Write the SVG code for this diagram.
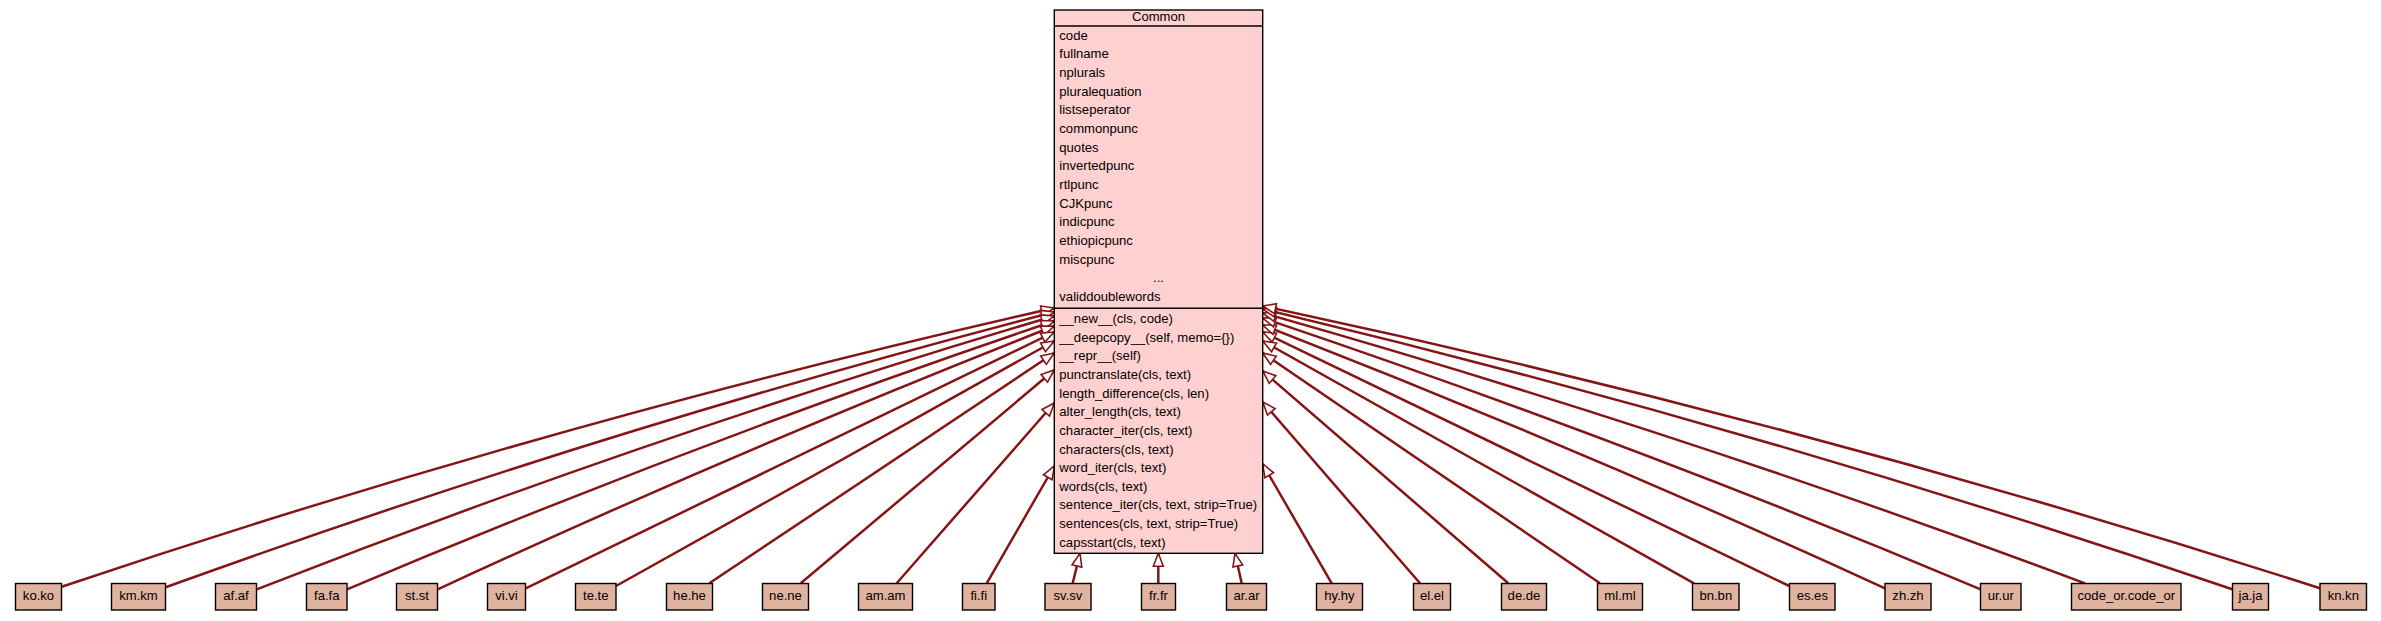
<svg xmlns="http://www.w3.org/2000/svg" width="2381" height="621" viewBox="0 0 2381 621">
<defs>
<style>
text{font-family:"Liberation Sans",Arial,Helvetica,sans-serif;font-size:13.1px;fill:#000}
.c{text-anchor:middle}
.box{fill:#ffd0d0;stroke:#000;stroke-width:1.4}
.sep{stroke:#000;stroke-width:1.4}
.n{fill:#e0b2a0;stroke:#000;stroke-width:1.4}
.e{fill:none;stroke:#861414;stroke-width:2.5;marker-end:url(#tri)}
</style>
<marker id="tri" markerUnits="userSpaceOnUse" markerWidth="16" markerHeight="14" viewBox="0 0 16 14" refX="14.5" refY="7" orient="auto">
<path d="M1.5,2 L14.5,7 L1.5,12 Z" fill="#fff" stroke="#861414" stroke-width="1.6"/>
</marker>
</defs>
<rect width="2381" height="621" fill="#fff"/>

<g id="connectors">
<path class="e" d="M61.7,586.7 Q551,422 1054.3,308"/>
<path class="e" d="M165.7,587.3 Q603.5,428.7 1054.3,312"/>
<path class="e" d="M256.7,589.3 Q649.7,435.7 1054.3,316"/>
<path class="e" d="M347,589.3 Q695.7,442.2 1054.3,321"/>
<path class="e" d="M437.7,589.3 Q742.1,448.5 1054.3,326"/>
<path class="e" d="M525.7,588.3 L1054.3,332"/>
<path class="e" d="M616,586 L1054.3,341"/>
<path class="e" d="M709.3,583.3 L1054.3,353"/>
<path class="e" d="M800.7,583.3 L1054.3,370"/>
<path class="e" d="M896.7,583.3 L1054.3,403"/>
<path class="e" d="M986.7,583.3 L1054.3,466"/>
<path class="e" d="M1072.7,583.3 L1080,553.3"/>
<path class="e" d="M1158.3,583.3 L1158.3,553.3"/>
<path class="e" d="M1241.7,583.3 L1235,553.3"/>
<path class="e" d="M1331.7,583.3 L1262.7,464"/>
<path class="e" d="M1420,583.3 L1262.7,402"/>
<path class="e" d="M1508.3,583.3 L1262.7,371"/>
<path class="e" d="M1600,583.3 L1262.7,353"/>
<path class="e" d="M1694,583.3 L1262.7,341"/>
<path class="e" d="M1789.3,586 L1262.7,332"/>
<path class="e" d="M1885,588.3 Q1577.8,447.5 1262.7,325"/>
<path class="e" d="M1980.7,589.3 Q1626.6,440.6 1262.7,318"/>
<path class="e" d="M2085,583.3 Q1679.5,431.1 1262.7,313"/>
<path class="e" d="M2232.3,589.3 Q1754.2,426.2 1262.7,309"/>
<path class="e" d="M2320,588.3 Q1798.6,420.2 1262.7,306"/>
</g>

<g id="Common">
<rect class="box" x="1054.3" y="10" width="208.4" height="543.3"/>
<line class="sep" x1="1054.3" y1="26" x2="1262.7" y2="26"/>
<line class="sep" x1="1054.3" y1="308.3" x2="1262.7" y2="308.3"/>
<text class="c" x="1158.5" y="21">Common</text>
<text x="1059.3" y="39.5">code</text>
<text x="1059.3" y="58.2">fullname</text>
<text x="1059.3" y="76.8">nplurals</text>
<text x="1059.3" y="95.5">pluralequation</text>
<text x="1059.3" y="114.2">listseperator</text>
<text x="1059.3" y="132.9">commonpunc</text>
<text x="1059.3" y="151.5">quotes</text>
<text x="1059.3" y="170.2">invertedpunc</text>
<text x="1059.3" y="188.9">rtlpunc</text>
<text x="1059.3" y="207.6">CJKpunc</text>
<text x="1059.3" y="226.2">indicpunc</text>
<text x="1059.3" y="244.9">ethiopicpunc</text>
<text x="1059.3" y="263.6">miscpunc</text>
<text class="c" x="1158.5" y="282.2">...</text>
<text x="1059.3" y="300.9">validdoublewords</text>
<text x="1059.3" y="322.8">__new__(cls, code)</text>
<text x="1059.3" y="341.5">__deepcopy__(self, memo={})</text>
<text x="1059.3" y="360.1">__repr__(self)</text>
<text x="1059.3" y="378.8">punctranslate(cls, text)</text>
<text x="1059.3" y="397.5">length_difference(cls, len)</text>
<text x="1059.3" y="416.1">alter_length(cls, text)</text>
<text x="1059.3" y="434.8">character_iter(cls, text)</text>
<text x="1059.3" y="453.5">characters(cls, text)</text>
<text x="1059.3" y="472.1">word_iter(cls, text)</text>
<text x="1059.3" y="490.8">words(cls, text)</text>
<text x="1059.3" y="509.4">sentence_iter(cls, text, strip=True)</text>
<text x="1059.3" y="528.1">sentences(cls, text, strip=True)</text>
<text x="1059.3" y="546.7">capsstart(cls, text)</text>
</g>

<g id="ko"><rect class="n" x="15.5" y="583.5" width="46" height="26.5"/><text class="c" x="38.5" y="600.3">ko.ko</text></g>
<g id="km"><rect class="n" x="111.5" y="583.5" width="54" height="26.5"/><text class="c" x="138.5" y="600.3">km.km</text></g>
<g id="af"><rect class="n" x="215.5" y="583.5" width="41" height="26.5"/><text class="c" x="236" y="600.3">af.af</text></g>
<g id="fa"><rect class="n" x="306.5" y="583.5" width="40.5" height="26.5"/><text class="c" x="326.8" y="600.3">fa.fa</text></g>
<g id="st"><rect class="n" x="396.5" y="583.5" width="41" height="26.5"/><text class="c" x="417" y="600.3">st.st</text></g>
<g id="vi"><rect class="n" x="487.5" y="583.5" width="38" height="26.5"/><text class="c" x="506.5" y="600.3">vi.vi</text></g>
<g id="te"><rect class="n" x="575.5" y="583.5" width="40.5" height="26.5"/><text class="c" x="595.8" y="600.3">te.te</text></g>
<g id="he"><rect class="n" x="666.5" y="583.5" width="46" height="26.5"/><text class="c" x="689.5" y="600.3">he.he</text></g>
<g id="ne"><rect class="n" x="762.5" y="583.5" width="46" height="26.5"/><text class="c" x="785.5" y="600.3">ne.ne</text></g>
<g id="am"><rect class="n" x="858.5" y="583.5" width="54" height="26.5"/><text class="c" x="885.5" y="600.3">am.am</text></g>
<g id="fi"><rect class="n" x="962.5" y="583.5" width="32.5" height="26.5"/><text class="c" x="978.8" y="600.3">fi.fi</text></g>
<g id="sv"><rect class="n" x="1045" y="583.5" width="46" height="26.5"/><text class="c" x="1068" y="600.3">sv.sv</text></g>
<g id="fr"><rect class="n" x="1141.5" y="583.5" width="34" height="26.5"/><text class="c" x="1158.5" y="600.3">fr.fr</text></g>
<g id="ar"><rect class="n" x="1226.5" y="583.5" width="40" height="26.5"/><text class="c" x="1246.5" y="600.3">ar.ar</text></g>
<g id="hy"><rect class="n" x="1316.5" y="583.5" width="46" height="26.5"/><text class="c" x="1339.5" y="600.3">hy.hy</text></g>
<g id="el"><rect class="n" x="1413.5" y="583.5" width="37" height="26.5"/><text class="c" x="1432" y="600.3">el.el</text></g>
<g id="de"><rect class="n" x="1501.5" y="583.5" width="45" height="26.5"/><text class="c" x="1524" y="600.3">de.de</text></g>
<g id="ml"><rect class="n" x="1597.5" y="583.5" width="45" height="26.5"/><text class="c" x="1620" y="600.3">ml.ml</text></g>
<g id="bn"><rect class="n" x="1692.5" y="583.5" width="46.5" height="26.5"/><text class="c" x="1715.8" y="600.3">bn.bn</text></g>
<g id="es"><rect class="n" x="1789.5" y="583.5" width="45.5" height="26.5"/><text class="c" x="1812.3" y="600.3">es.es</text></g>
<g id="zh"><rect class="n" x="1885" y="583.5" width="46" height="26.5"/><text class="c" x="1908" y="600.3">zh.zh</text></g>
<g id="ur"><rect class="n" x="1980.5" y="583.5" width="40.5" height="26.5"/><text class="c" x="2000.8" y="600.3">ur.ur</text></g>
<g id="code_or"><rect class="n" x="2071.5" y="583.5" width="109.5" height="26.5"/><text class="c" x="2126.3" y="600.3">code_or.code_or</text></g>
<g id="ja"><rect class="n" x="2232.5" y="583.5" width="36" height="26.5"/><text class="c" x="2250.5" y="600.3">ja.ja</text></g>
<g id="kn"><rect class="n" x="2320" y="583.5" width="46.5" height="26.5"/><text class="c" x="2343.3" y="600.3">kn.kn</text></g>
</svg>
